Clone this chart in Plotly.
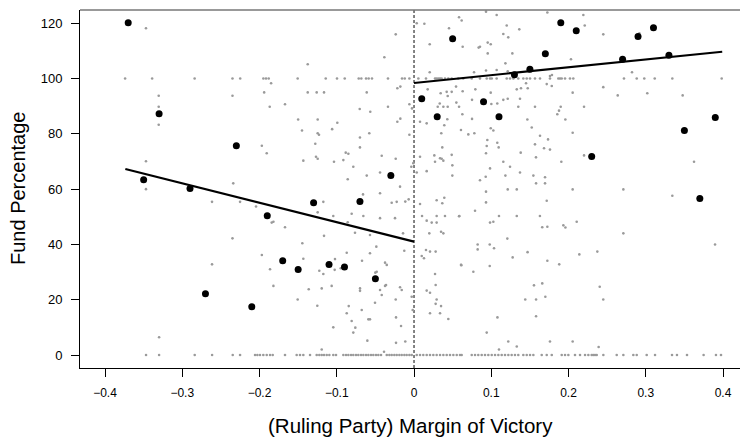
import plotly.graph_objects as go

# ---------------- data ----------------
# binned means (black dots)
bin_x = [-0.37, -0.35, -0.33, -0.29, -0.27, -0.23, -0.21, -0.19, -0.17, -0.15,
         -0.13, -0.11, -0.09, -0.07, -0.05, -0.03,
         0.01, 0.03, 0.05, 0.09, 0.11, 0.13, 0.15, 0.17, 0.19, 0.21,
         0.23, 0.27, 0.29, 0.31, 0.33, 0.35, 0.37, 0.39]
bin_y = [120.2, 63.4, 87.3, 60.2, 22.2, 75.7, 17.5, 50.4, 34.1, 30.9,
         55.1, 32.7, 31.8, 55.5, 27.6, 64.9,
         92.7, 86.2, 114.4, 91.6, 86.2, 101.4, 103.4, 109.0, 120.2, 117.3,
         71.8, 107.0, 115.2, 118.4, 108.4, 81.2, 56.6, 85.9]

# fitted lines on each side of the cutoff
left_fit_x = [-0.3737, 0.0]
left_fit_y = [67.3, 41.0]
right_fit_x = [0.0, 0.399]
right_fit_y = [98.4, 109.7]

# raw observations with Fund Percentage = 0
zero_x = [-0.3469, -0.330, -0.2839, -0.2614, -0.2347, -0.2252, -0.2058, -0.2028, -0.1994,
          -0.1951, -0.1907, -0.1864, -0.1829, -0.167, -0.1519, -0.1476, -0.1433, -0.1346,
          -0.126, -0.1226, -0.1195, -0.1165, -0.113, -0.1096, -0.1045, -0.101, -0.0915,
          -0.088, -0.085, -0.0815, -0.0786, -0.0751, -0.0721, -0.0686, -0.0656, -0.0621,
          -0.0591, -0.0557, -0.0527, -0.0492, -0.0462, -0.0427, -0.0353, -0.0319, -0.0289,
          -0.0255, -0.0224, -0.019, -0.0159, -0.0125, -0.0095, -0.006, -0.003,
          0.0035, 0.0078, 0.012, 0.0164, 0.0207, 0.025, 0.0293, 0.0337, 0.038, 0.0423,
          0.0466, 0.0509, 0.0553, 0.0595, 0.0617, 0.0747, 0.079, 0.0832, 0.0876, 0.0919,
          0.0962, 0.1006, 0.1049, 0.1092, 0.1135, 0.1178, 0.1221, 0.1264, 0.1307, 0.1350,
          0.1415, 0.1459, 0.1502, 0.1545, 0.1653, 0.1718, 0.1783, 0.1912, 0.1955, 0.1998,
          0.2084, 0.2149, 0.2214, 0.2257, 0.2300, 0.2321, 0.2343, 0.2365, 0.2451, 0.2624,
          0.2710, 0.2839, 0.2883, 0.3012, 0.3120, 0.3340, 0.3404, 0.3534, 0.3749, 0.3909,
          0.3974]

# raw observations with Fund Percentage = 100
hundred_x = [-0.374, -0.339, -0.284, -0.235, -0.225, -0.195, -0.1916, -0.1881, -0.1506,
             -0.1143, -0.0997, -0.0897, -0.0716, -0.0682, -0.0621, -0.0587, -0.0544,
             -0.0337, -0.0155, -0.012, -0.006,
             0.0056, 0.0155, 0.0272, 0.0293, 0.0315, 0.0337, 0.0358, 0.0401, 0.0444,
             0.0488, 0.0573, 0.0638, 0.0747, 0.0854, 0.0941, 0.0984, 0.1006, 0.107, 0.12,
             0.1243, 0.1286, 0.135, 0.1415, 0.1459, 0.1502, 0.1566, 0.1631, 0.176, 0.1868,
             0.189, 0.1912, 0.1955, 0.2019, 0.2062, 0.2718, 0.2883, 0.2981, 0.3116, 0.3344,
             0.3983]

# other raw observations, left of the cutoff (margin, fund %)
left_pts = [
    (-0.347, 118.2), (-0.3305, 93.8), (-0.3305, 89.8), (-0.3305, 83.3), (-0.235, 93.8),
    (-0.347, 70.1), (-0.347, 60.0), (-0.234, 62.1), (-0.2615, 55.4), (-0.2252, 55.4),
    (-0.235, 42.2), (-0.2615, 32.8), (-0.33, 6.4),
    (-0.0237, 116.0), (-0.1376, 105.2), (-0.0384, 107.7), (-0.185, 98.3),
    (-0.194, 95.0), (-0.1376, 95.0), (-0.126, 95.0), (-0.1165, 95.0), (-0.0612, 95.0),
    (-0.0216, 96.5), (-0.0177, 97.1), (-0.1868, 89.8), (-0.167, 90.7), (-0.0703, 89.0),
    (-0.0566, 88.0), (-0.0337, 89.8), (-0.006, 90.7), (-0.0026, 89.2),
    (-0.150, 85.2), (-0.1247, 85.2), (-0.0993, 84.0), (-0.0216, 84.4), (-0.0177, 85.5),
    (-0.145, 81.2), (-0.106, 81.7), (-0.1247, 80.2), (-0.123, 79.7), (-0.0579, 80.2),
    (-0.070, 78.7), (-0.006, 79.7),
    (-0.197, 75.7), (-0.1278, 76.4), (-0.070, 75.1), (-0.1907, 73.0), (-0.1269, 71.7),
    (-0.1247, 71.0), (-0.1433, 70.3), (-0.1036, 69.9), (-0.0884, 73.2), (-0.085, 72.8),
    (-0.0915, 70.5), (-0.0418, 72.1), (-0.0237, 71.0),
    (-0.0786, 68.1), (-0.0035, 68.1), (-0.0009, 69.4), (-0.044, 66.0), (-0.0612, 64.9),
    (-0.0858, 63.6), (-0.0181, 60.9), (-0.066, 58.1), (-0.044, 58.5),
    (-0.0289, 55.1), (-0.0224, 55.4), (-0.0113, 55.5), (-0.1174, 55.4), (-0.1247, 51.6),
    (-0.2045, 53.7), (-0.1045, 50.3), (-0.0807, 51.1), (-0.0656, 50.3), (-0.044, 49.5),
    (-0.0246, 49.5), (-0.0069, 56.3),
    (-0.1842, 47.9), (-0.182, 48.2), (-0.167, 46.2), (-0.0764, 44.2), (-0.1165, 43.1),
    (-0.0142, 44.0), (-0.1446, 40.4), (-0.0488, 39.2), (-0.0126, 37.7), (-0.0871, 37.0),
    (-0.057, 36.8), (-0.197, 36.2), (-0.1433, 34.8), (-0.0673, 34.1), (-0.0375, 33.4),
    (-0.0353, 32.6), (-0.1864, 31.0), (-0.1226, 30.5), (-0.1174, 29.3), (-0.1027, 30.8),
    (-0.0949, 31.4), (-0.0501, 29.8), (-0.0483, 30.1), (-0.0362, 25.3), (-0.0375, 25.0),
    (-0.0699, 24.1), (-0.0699, 23.2), (-0.0181, 24.5), (-0.0159, 23.5), (-0.182, 25.0),
    (-0.1363, 23.8), (-0.1195, 24.1), (-0.1066, 25.0), (-0.044, 23.5), (-0.0418, 21.7),
    (-0.1506, 20.1), (-0.0237, 20.1), (-0.0505, 18.9), (-0.0845, 17.7), (-0.0871, 15.1),
    (-0.1252, 17.8), (-0.0677, 16.3), (-0.003, 21.1), (-0.0017, 16.3), (-0.0233, 13.6),
    (-0.0807, 12.3), (-0.0591, 12.9), (-0.057, 12.9), (-0.1045, 10.0), (-0.076, 9.9),
    (-0.0786, 8.1), (-0.0168, 10.5), (-0.0604, 5.2), (-0.0233, 4.4), (-0.0113, 4.9),
    (-0.1195, 2.0), (-0.0388, 1.2), (-0.0858, 48.0), (-0.057, 43.4), (-0.1023, 34.7),
]

# other raw observations, right of the cutoff (margin, fund %)
right_pts = [
    (0.0035, 120.0), (0.0134, 119.8), (0.0583, 122.2), (0.0617, 121.0), (0.0932, 124.2),
    (0.0453, 118.2), (0.0203, 112.4), (0.063, 111.5), (0.0837, 111.2), (0.0854, 111.5),
    (0.0954, 113.0), (0.0993, 112.4), (0.0954, 109.1), (0.0932, 102.9), (0.0203, 102.3),
    (0.0777, 102.3),
    (0.0177, 96.1), (0.0345, 94.7), (0.0423, 95.2), (0.0488, 95.2), (0.0436, 93.7),
    (0.0544, 97.1), (0.063, 95.4), (0.0794, 96.1), (0.0993, 94.9),
    (0.0333, 91.0), (0.0307, 89.8), (0.038, 89.8), (0.0436, 89.8), (0.0548, 91.3),
    (0.0583, 89.8), (0.0751, 92.3), (0.1001, 90.8),
    (0.0164, 83.8), (0.0078, 84.4), (0.0392, 83.1), (0.0431, 85.3), (0.0608, 81.4),
    (0.0751, 85.4), (0.0703, 79.8), (0.0781, 80.2), (0.0353, 80.2), (0.0993, 82.0),
    (0.1027, 81.2), (0.0949, 77.8), (0.0941, 75.6), (0.0932, 73.0), (0.1078, 76.8),
    (0.1096, 75.1), (0.0366, 75.1), (0.0626, 87.1),
    (0.0078, 71.7), (0.0263, 72.2), (0.0337, 71.2), (0.0358, 71.0), (0.0272, 69.9),
    (0.0488, 72.4), (0.038, 70.3), (0.0496, 68.6), (0.0164, 66.5), (0.0035, 66.0),
    (0.0496, 64.9), (0.0854, 63.2), (0.0928, 64.5), (0.0932, 59.1),
    (0.0078, 54.6), (0.0293, 56.0), (0.0366, 54.9), (0.0392, 56.9), (0.0932, 55.2),
    (0.0104, 50.3), (0.0293, 50.3), (0.0401, 50.3), (0.0587, 50.3), (0.079, 52.2),
    (0.0164, 48.6), (0.0229, 47.9), (0.0293, 47.9), (0.0198, 44.0), (0.038, 44.0),
    (0.035, 44.6), (0.0155, 38.0), (0.0207, 37.4), (0.028, 37.4), (0.01, 35.8),
    (0.0129, 35.0), (0.0608, 32.6), (0.0768, 30.1), (0.0272, 29.3), (0.0164, 23.3),
    (0.0207, 22.5), (0.028, 25.3), (0.0293, 20.1), (0.028, 18.5), (0.035, 17.7),
    (0.0207, 15.1), (0.0337, 15.1), (0.0444, 13.0), (0.0941, 8.1),
    (0.0583, 50.2), (0.0613, 32.5), (0.0824, 40.0), (0.0824, 38.2), (0.1213, 59.9),
    (0.133, 59.9),
    (0.110, 50.3), (0.133, 50.3), (0.163, 50.3), (0.1718, 55.8), (0.0984, 47.9),
    (0.1027, 48.2), (0.166, 46.2), (0.1726, 46.4), (0.1933, 46.9), (0.196, 46.1),
    (0.2106, 48.2), (0.271, 44.0), (0.1208, 42.1), (0.098, 40.0), (0.1036, 38.6),
    (0.147, 37.2), (0.1277, 35.3), (0.1726, 34.1), (0.214, 36.4), (0.2373, 37.4),
    (0.188, 32.8), (0.098, 32.2), (0.3897, 40.0), (0.166, 25.9), (0.1553, 25.2),
    (0.170, 21.1), (0.144, 20.1), (0.158, 20.1), (0.2404, 24.7), (0.245, 20.1),
    (0.108, 13.6), (0.158, 14.0), (0.110, 2.0), (0.122, 4.9), (0.133, 3.1),
    (0.176, 4.9), (0.2054, 4.9), (0.239, 2.9),
    (0.107, 123.0), (0.1726, 123.9), (0.2192, 123.0), (0.12, 119.2), (0.1363, 117.8),
    (0.1156, 116.1), (0.122, 114.9), (0.221, 119.2), (0.245, 116.0), (0.2917, 116.4),
    (0.1273, 109.1), (0.1183, 105.5), (0.2032, 107.0), (0.107, 103.1), (0.1213, 102.6),
    (0.2822, 102.3), (0.176, 100.9), (0.1786, 101.3), (0.1718, 98.0), (0.1783, 97.3),
    (0.133, 96.1), (0.1385, 96.5), (0.1472, 96.5), (0.145, 98.3), (0.2054, 94.9),
    (0.245, 96.9), (0.2637, 93.9), (0.302, 94.7), (0.3478, 93.9), (0.1156, 92.3),
    (0.1213, 92.7), (0.1372, 92.7), (0.1078, 91.0), (0.135, 89.8), (0.1566, 89.8),
    (0.1899, 89.8), (0.1877, 88.4), (0.1855, 87.1), (0.2201, 89.8), (0.1959, 85.2),
    (0.1467, 85.2), (0.1524, 82.3), (0.2054, 80.4), (0.1631, 79.3), (0.1735, 78.0),
    (0.176, 74.3), (0.1683, 74.8), (0.1566, 76.2), (0.1381, 73.2), (0.1579, 71.5),
    (0.0984, 67.5), (0.1156, 69.9), (0.1243, 68.1), (0.1907, 69.9), (0.2201, 72.2),
    (0.1183, 64.9), (0.1372, 66.0), (0.1545, 64.9), (0.158, 62.1), (0.1696, 64.3),
    (0.1696, 62.1), (0.3625, 69.9), (0.2054, 59.9), (0.271, 59.9), (0.3344, 57.6),
]

x_ticks = [-0.4, -0.3, -0.2, -0.1, 0, 0.1, 0.2, 0.3, 0.4]
x_tick_labels = ["\u22120.4", "\u22120.3", "\u22120.2", "\u22120.1", "0", "0.1", "0.2", "0.3", "0.4"]
y_ticks = [0, 20, 40, 60, 80, 100, 120]
y_tick_labels = ["0", "20", "40", "60", "80", "100", "120"]

x_title = "(Ruling Party) Margin of Victory"
y_title = "Fund Percentage"

# ---------------- assemble raw series ----------------
raw_x = zero_x + hundred_x + [p[0] for p in left_pts] + [p[0] for p in right_pts]
raw_y = ([0] * len(zero_x) + [100] * len(hundred_x)
         + [p[1] for p in left_pts] + [p[1] for p in right_pts])

FONT = "Liberation Sans, Arial, Helvetica, sans-serif"

fig = go.Figure()
fig.add_trace(go.Scatter(x=raw_x, y=raw_y, mode="markers",
                         marker=dict(size=2.6, color="#9a9a9a", line=dict(width=0)),
                         showlegend=False, hoverinfo="skip"))
fig.add_trace(go.Scatter(x=left_fit_x, y=left_fit_y, mode="lines",
                         line=dict(color="black", width=2.2), showlegend=False))
fig.add_trace(go.Scatter(x=right_fit_x, y=right_fit_y, mode="lines",
                         line=dict(color="black", width=2.2), showlegend=False))
fig.add_trace(go.Scatter(x=bin_x, y=bin_y, mode="markers",
                         marker=dict(size=7, color="black", line=dict(width=0)),
                         showlegend=False))

# cutoff line
fig.add_shape(type="line", xref="x", yref="paper", x0=0, x1=0, y0=0, y1=1,
              line=dict(color="#333333", width=1.2, dash="3px,2px"), layer="below")
# top frame line
fig.add_shape(type="line", xref="paper", yref="paper", x0=0, x1=1, y0=1, y1=1,
              line=dict(color="#777777", width=1.5))

fig.add_annotation(text=x_title, xref="paper", yref="paper", x=0.5, y=0,
                   xanchor="center", yanchor="middle", yshift=-57, showarrow=False,
                   font=dict(family=FONT, size=20.5, color="black"))
fig.add_annotation(text=y_title, xref="paper", yref="paper", x=0, y=0.5,
                   xanchor="center", yanchor="middle", xshift=-62, textangle=-90,
                   showarrow=False, font=dict(family=FONT, size=20, color="black"))

fig.update_layout(
    width=740, height=438,
    margin=dict(l=80, r=0, t=10, b=70, autoexpand=False),
    paper_bgcolor="white", plot_bgcolor="white",
    font=dict(family=FONT, color="black"),
    xaxis=dict(range=[-0.4324, 0.4220], tickvals=x_ticks, ticktext=x_tick_labels,
               showgrid=False, zeroline=False, showline=True, linecolor="black",
               linewidth=1, ticks="outside", ticklen=8, tickcolor="black",
               automargin=False, ticklabelstandoff=6,
               tickfont=dict(family=FONT, size=12, color="black")),
    yaxis=dict(range=[-4.7, 124.8], tickvals=y_ticks, ticktext=y_tick_labels,
               showgrid=False, zeroline=False, showline=True, linecolor="black",
               linewidth=1, ticks="outside", ticklen=8, tickcolor="black",
               automargin=False, ticklabelstandoff=6,
               tickfont=dict(family=FONT, size=13, color="black")),
)

fig.write_html("out.html", config={"displayModeBar": False},
               post_script="document.body.style.margin='0px';document.body.style.padding='0px';")
